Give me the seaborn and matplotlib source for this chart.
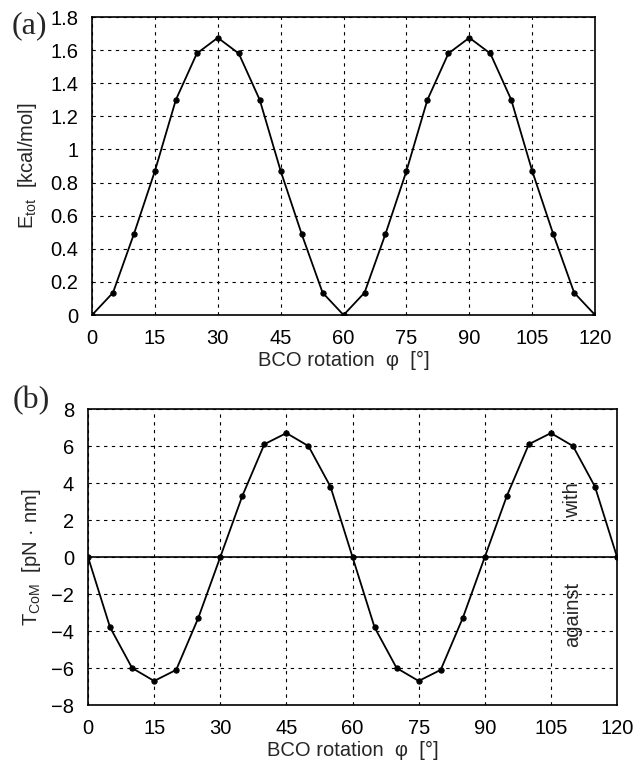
import numpy as np
import pandas as pd
import matplotlib
matplotlib.use("Agg")
import matplotlib.pyplot as plt
import seaborn as sns

# rotation angle (deg), sampled every 5 degrees
phi = [0, 5, 10, 15, 20, 25, 30, 35, 40, 45, 50, 55, 60,
       65, 70, 75, 80, 85, 90, 95, 100, 105, 110, 115, 120]

# (a) total energy [kcal/mol]
e_tot = [0.0, 0.135, 0.49, 0.87, 1.30, 1.58, 1.675, 1.58, 1.30, 0.87, 0.49, 0.135, 0.0,
         0.135, 0.49, 0.87, 1.30, 1.58, 1.675, 1.58, 1.30, 0.87, 0.49, 0.135, 0.0]

# (b) torque [pN nm]
t_com = [0.0, -3.8, -6.0, -6.7, -6.1, -3.3, 0.0, 3.3, 6.1, 6.7, 6.0, 3.8, 0.0,
         -3.8, -6.0, -6.7, -6.1, -3.3, 0.0, 3.3, 6.1, 6.7, 6.0, 3.8, 0.0]

xticks = [0, 15, 30, 45, 60, 75, 90, 105, 120]
yticks_a = [0, 0.2, 0.4, 0.6, 0.8, 1.0, 1.2, 1.4, 1.6, 1.8]
yticks_a_lbl = ["0", "0.2", "0.4", "0.6", "0.8", "1", "1.2", "1.4", "1.6", "1.8"]
yticks_b = [-8, -6, -4, -2, 0, 2, 4, 6, 8]
yticks_b_lbl = ["\u22128", "\u22126", "\u22124", "\u22122", "0", "2", "4", "6", "8"]

df = pd.DataFrame({"phi": phi, "E": e_tot, "T": t_com})

sns.set_style("white")
plt.rcParams["font.family"] = ["Liberation Sans", "DejaVu Sans"]
plt.rcParams["mathtext.fontset"] = "custom"
plt.rcParams["mathtext.rm"] = "Liberation Sans"
plt.rcParams["mathtext.it"] = "Liberation Sans"

fig = plt.figure(figsize=(6.36, 7.68), dpi=100)
ax1 = fig.add_axes([0.1447, 0.5898, 0.791, 0.388])
ax2 = fig.add_axes([0.1384, 0.0820, 0.8318, 0.3854])

FS = 14.5

def style(ax):
    ax.set_xlim(0, 120)
    ax.set_xticks(xticks)
    ax.grid(True, color="black", linestyle=(0, (3, 4)), linewidth=0.8)
    for s in ax.spines.values():
        s.set_color("black")
        s.set_linewidth(1.2)
    ax.tick_params(labelsize=FS, length=0, pad=10, colors="black")
    ax.set_xlabel("BCO rotation  \u03c6  [\u00b0]", fontsize=FS, labelpad=2)

sns.lineplot(data=df, x="phi", y="E", ax=ax1, color="black", linewidth=1.3,
             marker="o", markersize=3.8, markeredgecolor="black")
style(ax1)
ax1.set_ylim(0, 1.8)
ax1.set_yticks(yticks_a)
ax1.set_yticklabels(yticks_a_lbl)
ax1.set_ylabel("E$_{\\rm tot}$  [kcal/mol]", fontsize=FS, labelpad=8)

sns.lineplot(data=df, x="phi", y="T", ax=ax2, color="black", linewidth=1.3,
             marker="o", markersize=3.8, markeredgecolor="black")
style(ax2)
ax2.axhline(0, color="black", linewidth=1.2)
ax2.set_ylim(-8, 8)
ax2.set_yticks(yticks_b)
ax2.set_yticklabels(yticks_b_lbl)
ax2.set_ylabel("T$_{\\rm CoM}$  [pN \u00b7 nm]", fontsize=FS, labelpad=6)

ax2.text(110, 3.1, "with", rotation=90, ha="center", va="center", fontsize=FS)
ax2.text(110, -3.1, "against", rotation=90, ha="center", va="center", fontsize=FS)

serif = ["Liberation Serif", "DejaVu Serif"]
fig.text(0.018, 0.986, "(a)", fontsize=23, family=serif, va="top")
fig.text(0.020, 0.497, "(b)", fontsize=23, family=serif, va="top")

fig.savefig("out.png", dpi=100)
